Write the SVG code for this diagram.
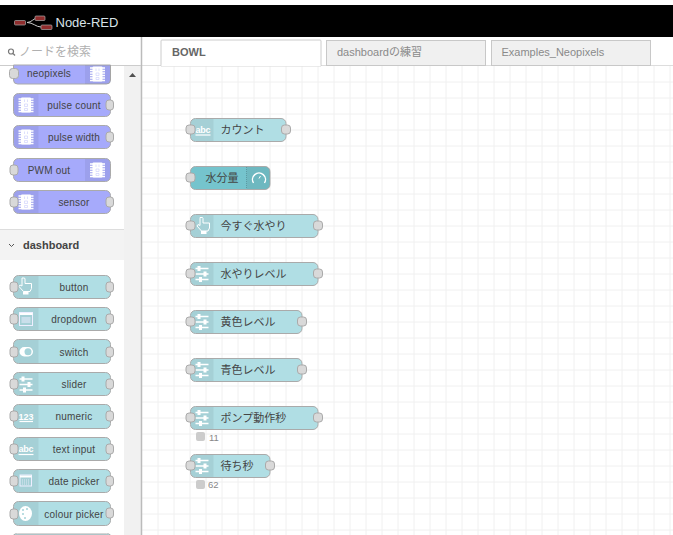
<svg xmlns="http://www.w3.org/2000/svg" width="673" height="535" viewBox="0 0 673 535">
<style>
text{font-family:"Liberation Sans","Noto Sans CJK JP",sans-serif}
.b{fill:#b0dee4;stroke:#aaa;stroke-width:1}
.w{fill:#75c4cd;stroke:#aaa;stroke-width:1}
.p{fill:#a6aafb;stroke:#aaa;stroke-width:1}
.ic{fill:#000;fill-opacity:.06}
.port{fill:#d9d9d9;stroke:#aaa;stroke-width:1}
.pl{font-size:10px;fill:#444;text-anchor:middle;letter-spacing:.2px}
.wl{font-size:11px;fill:#444}
.tab{fill:#f0f0f0;stroke:#c8c8c8}
.tt{font-size:11px;fill:#8a8a8a}
.st{font-size:9.500px;fill:#888}
.g{stroke:#f0f0f0;stroke-width:1}
.iw{fill:#fff}
.sl{stroke:#fff;stroke-width:1.300;fill:none}
</style>
<defs>
<g id="i-mcu"><rect x="-5" y="-7.500" width="10" height="15" rx="1" class="iw"/><path d="M-7.500-6h15M-7.500-3.500h15M-7.500-1h15M-7.500 1.500h15M-7.500 4h15M-7.500 6.500h15" stroke="#fff" stroke-width="1.300"/><path d="M-1.500-5.500v2.500M1.500-5.500v2.500M-1.500-1h3v2.500h-3zM-1.500 3.500h3v2h-3z" stroke="#c9ccfc" stroke-width=".6" fill="none"/></g>
<g id="i-slider"><path class="sl" d="M-6.500-5.500H6.500M-6.500 0H6.500M-6.500 5.500H6.500"/><rect x="-4.500" y="-8" width="3" height="5" class="iw"/><rect x="1.500" y="-2.500" width="3" height="5" class="iw"/><rect x="-3" y="3" width="3" height="5" class="iw"/></g>
<g id="i-hand"><path d="M-3-8.500h2.500l.5 1v4.500h6.500v5l-1.500 3h-6.500l-4.500-5 1-1.500 2 1v-7z" fill="none" stroke="#fff" stroke-width="1"/><rect x="-2" y="5" width="5.500" height="3" class="iw"/></g>
<g id="i-abc"><text x="0" y="1" font-size="9" font-weight="bold" fill="#fff" text-anchor="middle" textLength="15">abc</text><path d="M-7.500 3.500h15" stroke="#fff" stroke-width="1.200"/></g>
</defs>

<rect width="673" height="535" fill="#fff"/>
<rect x="0" y="5" width="673" height="32" fill="#000"/>
<g id="logo">
<path d="M27 22.500C32 22.500 33 18 38 18M27 22.500C33 22.500 36 27 41 27" fill="none" stroke="#ccc" stroke-width="1"/>
<rect x="14.500" y="20.500" width="11" height="4.500" rx="1" fill="#8f2d2d" stroke="#aaa" stroke-width=".7"/>
<rect x="35" y="16" width="10" height="4.500" rx="1" fill="#8f2d2d" stroke="#aaa" stroke-width=".7"/>
<rect x="41" y="25" width="11" height="4.500" rx="1" fill="#8f2d2d" stroke="#aaa" stroke-width=".7"/>
<text x="55.500" y="27" font-size="13" fill="#d8e2e8">Node-RED</text>
</g>

<g id="workspace-grid">
<rect x="142" y="66" width="531" height="469" fill="#fff"/>
<path class="g" d="M158 66V535M174 66V535M190 66V535M206 66V535M222 66V535M238 66V535M254 66V535M270 66V535M286 66V535M302 66V535M318 66V535M334 66V535M350 66V535M366 66V535M382 66V535M398 66V535M414 66V535M430 66V535M446 66V535M462 66V535M478 66V535M494 66V535M510 66V535M526 66V535M542 66V535M558 66V535M574 66V535M590 66V535M606 66V535M622 66V535M638 66V535M654 66V535M670 66V535"/>
<path class="g" d="M142 82H673M142 98H673M142 114H673M142 130H673M142 146H673M142 162H673M142 178H673M142 194H673M142 210H673M142 226H673M142 242H673M142 258H673M142 274H673M142 290H673M142 306H673M142 322H673M142 338H673M142 354H673M142 370H673M142 386H673M142 402H673M142 418H673M142 434H673M142 450H673M142 466H673M142 482H673M142 498H673M142 514H673M142 530H673"/>
</g>

<g id="tabs">
<path d="M142 65.500H673" stroke="#ddd" fill="none"/>
<path d="M161 66V41a1 1 0 0 1 1-1H320a1 1 0 0 1 1 1V66z" fill="#fff" stroke="#ccc"/>
<rect x="326.500" y="40.500" width="159" height="25" class="tab"/>
<rect x="491.500" y="40.500" width="159" height="25" class="tab"/>
<path d="M161.500 65.500H320.500" stroke="#fff" stroke-width="1.500"/>
<text x="172" y="56" font-size="11" fill="#666" font-weight="bold">BOWL</text>
<text x="337" y="56" class="tt">dashboardの練習</text>
<text x="501.500" y="56" class="tt">Examples_Neopixels</text>
</g>

<g id="search">
<rect x="0" y="37" width="141" height="28" fill="#fff"/>
<circle cx="11" cy="51.500" r="2.500" fill="none" stroke="#777" stroke-width="1.200"/><path d="M13 53.500l2 2" stroke="#777" stroke-width="1.200"/>
<text x="19" y="56" font-size="12" fill="#b0b0b0">ノードを検索</text>
</g>
<g id="scrollbar">
<rect x="124" y="65" width="17" height="470" fill="#f1f1f1"/>
<path d="M129 77l3.500-4 3.500 4z" fill="#505050"/>
</g>
<g id="sidebar-separator"><path d="M141.500 37V535" stroke="#bbb" stroke-width="1.500"/><path d="M0 65.500H141" stroke="#ccc"/></g>

<g id="category-dashboard">
<rect x="0" y="230" width="124" height="30" fill="#f3f3f3"/>
<path d="M0 229.500H124" stroke="#ddd"/>
<path d="M9 244l2.500 2.500 2.500-2.500" fill="none" stroke="#555" stroke-width="1"/>
<text x="23" y="249" font-size="11" font-weight="bold" fill="#444">dashboard</text>
</g>

<g id="p-neopixels">
<path class="p" d="M13.500 65V80a4 4 0 0 0 4 4H106.500a4 4 0 0 0 4-4V65z"/><path d="M85 65h25.500V80a4 4 0 0 1-4 4H85z" class="ic"/>
<use href="#i-mcu" x="97.500" y="74"/><rect x="9.500" y="68.500" width="9" height="10" rx="3" class="port"/>
<text x="49" y="77" class="pl">neopixels</text></g>

<g id="p-pulse-count"><rect x="13.500" y="93.500" width="97" height="23" rx="5" class="p"/><path d="M18.500 94h20v22h-20a4.500 4.500 0 0 1-4.500-4.500v-13a4.500 4.500 0 0 1 4.500-4.500z" class="ic"/>
<use href="#i-mcu" x="26" y="105"/><rect x="106" y="100" width="7.500" height="10" rx="3" class="port"/>
<text x="74" y="109" class="pl">pulse count</text></g>
<g id="p-pulse-width"><rect x="13.500" y="125.500" width="97" height="23" rx="5" class="p"/><path d="M18.500 126h20v22h-20a4.500 4.500 0 0 1-4.500-4.500v-13a4.500 4.500 0 0 1 4.500-4.500z" class="ic"/>
<use href="#i-mcu" x="26" y="137"/><rect x="106" y="132" width="7.500" height="10" rx="3" class="port"/>
<text x="74" y="141" class="pl">pulse width</text></g>
<g id="p-pwm-out"><rect x="13.500" y="158.500" width="97" height="23" rx="5" class="p"/><path d="M85 159h20.500a4.500 4.500 0 0 1 4.500 4.500v13a4.500 4.500 0 0 1-4.500 4.500H85z" class="ic"/>
<use href="#i-mcu" x="97.500" y="170"/><rect x="10" y="165" width="8" height="10" rx="3" class="port"/>
<text x="49" y="174" class="pl">PWM out</text></g>
<g id="p-sensor"><rect x="13.500" y="190.500" width="97" height="23" rx="5" class="p"/><path d="M18.500 191h20v22h-20a4.500 4.500 0 0 1-4.500-4.500v-13a4.500 4.500 0 0 1 4.500-4.500z" class="ic"/>
<use href="#i-mcu" x="26" y="202"/><rect x="10" y="197" width="8" height="10" rx="3" class="port"/><rect x="106" y="197" width="7.500" height="10" rx="3" class="port"/>
<text x="74" y="206" class="pl">sensor</text></g>

<g id="p-button"><rect x="13.500" y="275.500" width="97" height="23" rx="5" class="b"/><path d="M18.500 276h20v22h-20a4.500 4.500 0 0 1-4.500-4.500v-13a4.500 4.500 0 0 1 4.500-4.500z" class="ic"/>
<use href="#i-hand" x="25" y="286.500"/><rect x="10" y="282" width="8" height="10" rx="3" class="port"/><rect x="106" y="282" width="7.500" height="10" rx="3" class="port"/>
<text x="74" y="290.500" class="pl">button</text></g>
<g id="p-dropdown"><rect x="13.500" y="307.500" width="97" height="23" rx="5" class="b"/><path d="M18.500 308h20v22h-20a4.500 4.500 0 0 1-4.500-4.500v-13a4.500 4.500 0 0 1 4.500-4.500z" class="ic"/>
<rect x="19.500" y="312.500" width="13" height="13" fill="none" stroke="#eef" stroke-width="1"/><path d="M19.500 314h13" stroke="#fff" stroke-width="2"/><path d="M21.500 318h9M21.500 320h9M21.500 322h9" stroke="#eef" stroke-width="1"/><rect x="10" y="314" width="8" height="10" rx="3" class="port"/><rect x="106" y="314" width="7.500" height="10" rx="3" class="port"/>
<text x="74" y="322.500" class="pl">dropdown</text></g>
<g id="p-switch"><rect x="13.500" y="339.500" width="97" height="24" rx="5" class="b"/><path d="M18.500 340h20v23h-20a4.500 4.500 0 0 1-4.500-4.500v-14a4.500 4.500 0 0 1 4.500-4.500z" class="ic"/>
<rect x="19.500" y="347" width="13.500" height="9.500" rx="4.700" class="iw"/><circle cx="28" cy="351.800" r="3.500" fill="#a5d3d9"/><rect x="10" y="347" width="8" height="10" rx="3" class="port"/><rect x="106" y="347" width="7.500" height="10" rx="3" class="port"/>
<text x="74" y="355.500" class="pl">switch</text></g>
<g id="p-slider"><rect x="13.500" y="372.500" width="97" height="23" rx="5" class="b"/><path d="M18.500 373h20v22h-20a4.500 4.500 0 0 1-4.500-4.500v-13a4.500 4.500 0 0 1 4.500-4.500z" class="ic"/>
<use href="#i-slider" x="26" y="384.500"/><rect x="10" y="379" width="8" height="10" rx="3" class="port"/><rect x="106" y="379" width="7.500" height="10" rx="3" class="port"/>
<text x="74" y="388" class="pl">slider</text></g>
<g id="p-numeric"><rect x="13.500" y="404.500" width="97" height="24" rx="5" class="b"/><path d="M18.500 405h20v23h-20a4.500 4.500 0 0 1-4.500-4.500v-14a4.500 4.500 0 0 1 4.500-4.500z" class="ic"/>
<text x="26" y="420" font-size="9" font-weight="bold" fill="#fff" text-anchor="middle">123</text><path d="M19.500 421.500h13.500" stroke="#fff" stroke-width="1.200"/><rect x="10" y="411" width="8" height="10" rx="3" class="port"/><rect x="106" y="411" width="7.500" height="10" rx="3" class="port"/>
<text x="74" y="420" class="pl">numeric</text></g>
<g id="p-text-input"><rect x="13.500" y="437.500" width="97" height="23" rx="5" class="b"/><path d="M18.500 438h20v22h-20a4.500 4.500 0 0 1-4.500-4.500v-13a4.500 4.500 0 0 1 4.500-4.500z" class="ic"/>
<use href="#i-abc" x="26" y="451"/><rect x="10" y="444" width="8" height="10" rx="3" class="port"/><rect x="106" y="444" width="7.500" height="10" rx="3" class="port"/>
<text x="74" y="452.500" class="pl">text input</text></g>
<g id="p-date-picker"><rect x="13.500" y="469.500" width="97" height="23" rx="5" class="b"/><path d="M18.500 470h20v22h-20a4.500 4.500 0 0 1-4.500-4.500v-13a4.500 4.500 0 0 1 4.500-4.500z" class="ic"/>
<rect x="20" y="475" width="11.500" height="11" fill="none" stroke="#eef" stroke-width="1"/><path d="M20 476.500h11.500" stroke="#fff" stroke-width="2"/><path d="M22 480h8M22 482h8M22 484h8" stroke="#eef" stroke-width=".8" stroke-dasharray="1 1"/><rect x="10" y="476" width="8" height="10" rx="3" class="port"/><rect x="106" y="476" width="7.500" height="10" rx="3" class="port"/>
<text x="74" y="484.500" class="pl">date picker</text></g>
<g id="p-colour-picker"><rect x="13.500" y="501.500" width="97" height="24" rx="5" class="b"/><path d="M18.500 502h20v23h-20a4.500 4.500 0 0 1-4.500-4.500v-14a4.500 4.500 0 0 1 4.500-4.500z" class="ic"/>
<ellipse cx="25.500" cy="513.500" rx="6.500" ry="7.500" class="iw"/><circle cx="23" cy="510" r="1" fill="#a5d3d9"/><circle cx="27" cy="509" r="1" fill="#a5d3d9"/><circle cx="23" cy="514" r="1" fill="#a5d3d9"/><circle cx="25" cy="518" r="1" fill="#a5d3d9"/><rect x="10" y="509" width="8" height="10" rx="3" class="port"/><rect x="106" y="508" width="7.500" height="10" rx="3" class="port"/>
<text x="74" y="517.500" class="pl">colour picker</text></g>
<g id="p-next"><path class="b" d="M13.500 535V538M13.500 535a4 4 0 0 1 4-1H106.500a4 4 0 0 1 4 1"/></g>

<g id="connectors"></g>

<g id="n-count"><rect x="190.500" y="118.500" width="95.500" height="23" rx="5" class="b"/><path d="M195.500 119h18v22h-18a4.500 4.500 0 0 1-4.500-4.500v-13a4.500 4.500 0 0 1 4.500-4.500z" class="ic"/>
<use href="#i-abc" x="203" y="131.500"/><rect x="186" y="125" width="9" height="9" rx="3" class="port"/><rect x="281.500" y="125" width="9" height="9" rx="3" class="port"/>
<text x="220.500" y="134" class="wl">カウント</text></g>
<g id="n-water"><rect x="190.500" y="166.500" width="79.500" height="23" rx="5" class="w"/><path d="M246.500 167h19a4.500 4.500 0 0 1 4.500 4.500v13a4.500 4.500 0 0 1-4.500 4.500h-19z" class="ic"/><path d="M246.500 167v22" stroke="#5d9aa2" stroke-dasharray="1 1"/>
<path d="M253.500 183a6.500 6.500 0 1 1 11 0" fill="none" stroke="#fff" stroke-width="1.400"/><path d="M259 178.500l1.500-2.500" stroke="#fff" stroke-width="1"/><rect x="186" y="173" width="9" height="9" rx="3" class="port"/>
<text x="205.500" y="182" class="wl">水分量</text></g>
<g id="n-now"><rect x="190.500" y="214.500" width="127.500" height="23" rx="5" class="b"/><path d="M195.500 215h18v22h-18a4.500 4.500 0 0 1-4.500-4.500v-13a4.500 4.500 0 0 1 4.500-4.500z" class="ic"/>
<use href="#i-hand" x="203" y="226"/><rect x="186" y="221" width="9" height="9" rx="3" class="port"/><rect x="313.500" y="221" width="9" height="9" rx="3" class="port"/>
<text x="220.500" y="230" class="wl">今すぐ水やり</text></g>
<g id="n-level"><rect x="190.500" y="262.500" width="127.500" height="23" rx="5" class="b"/><path d="M195.500 263h18v22h-18a4.500 4.500 0 0 1-4.500-4.500v-13a4.500 4.500 0 0 1 4.500-4.500z" class="ic"/>
<use href="#i-slider" x="202" y="274"/><rect x="186" y="269" width="9" height="9" rx="3" class="port"/><rect x="313.500" y="269" width="9" height="9" rx="3" class="port"/>
<text x="220.500" y="278" class="wl">水やりレベル</text></g>
<g id="n-yellow"><rect x="190.500" y="310.500" width="111.500" height="23" rx="5" class="b"/><path d="M195.500 311h18v22h-18a4.500 4.500 0 0 1-4.500-4.500v-13a4.500 4.500 0 0 1 4.500-4.500z" class="ic"/>
<use href="#i-slider" x="202" y="322"/><rect x="186" y="317" width="9" height="9" rx="3" class="port"/><rect x="297.500" y="317" width="9" height="9" rx="3" class="port"/>
<text x="220.500" y="326" class="wl">黄色レベル</text></g>
<g id="n-blue"><rect x="190.500" y="358.500" width="111.500" height="23" rx="5" class="b"/><path d="M195.500 359h18v22h-18a4.500 4.500 0 0 1-4.500-4.500v-13a4.500 4.500 0 0 1 4.500-4.500z" class="ic"/>
<use href="#i-slider" x="202" y="370"/><rect x="186" y="365" width="9" height="9" rx="3" class="port"/><rect x="297.500" y="365" width="9" height="9" rx="3" class="port"/>
<text x="220.500" y="374" class="wl">青色レベル</text></g>
<g id="n-pump"><rect x="190.500" y="406.500" width="127.500" height="23" rx="5" class="b"/><path d="M195.500 407h18v22h-18a4.500 4.500 0 0 1-4.500-4.500v-13a4.500 4.500 0 0 1 4.500-4.500z" class="ic"/>
<use href="#i-slider" x="202" y="418"/><rect x="186" y="413" width="9" height="9" rx="3" class="port"/><rect x="313.500" y="413" width="9" height="9" rx="3" class="port"/>
<text x="220.500" y="422" class="wl">ポンプ動作秒</text>
<rect x="196" y="432" width="9" height="9" rx="2" fill="#ccc"/><text x="209" y="441" class="st">11</text></g>
<g id="n-wait"><rect x="190.500" y="454.500" width="79.500" height="23" rx="5" class="b"/><path d="M195.500 455h18v22h-18a4.500 4.500 0 0 1-4.500-4.500v-13a4.500 4.500 0 0 1 4.500-4.500z" class="ic"/>
<use href="#i-slider" x="202" y="466"/><rect x="186" y="461" width="9" height="9" rx="3" class="port"/><rect x="265.500" y="461" width="9" height="9" rx="3" class="port"/>
<text x="220.500" y="470" class="wl">待ち秒</text>
<rect x="196" y="480" width="9" height="9" rx="2" fill="#ccc"/><text x="208" y="488" class="st">62</text></g>
</svg>
